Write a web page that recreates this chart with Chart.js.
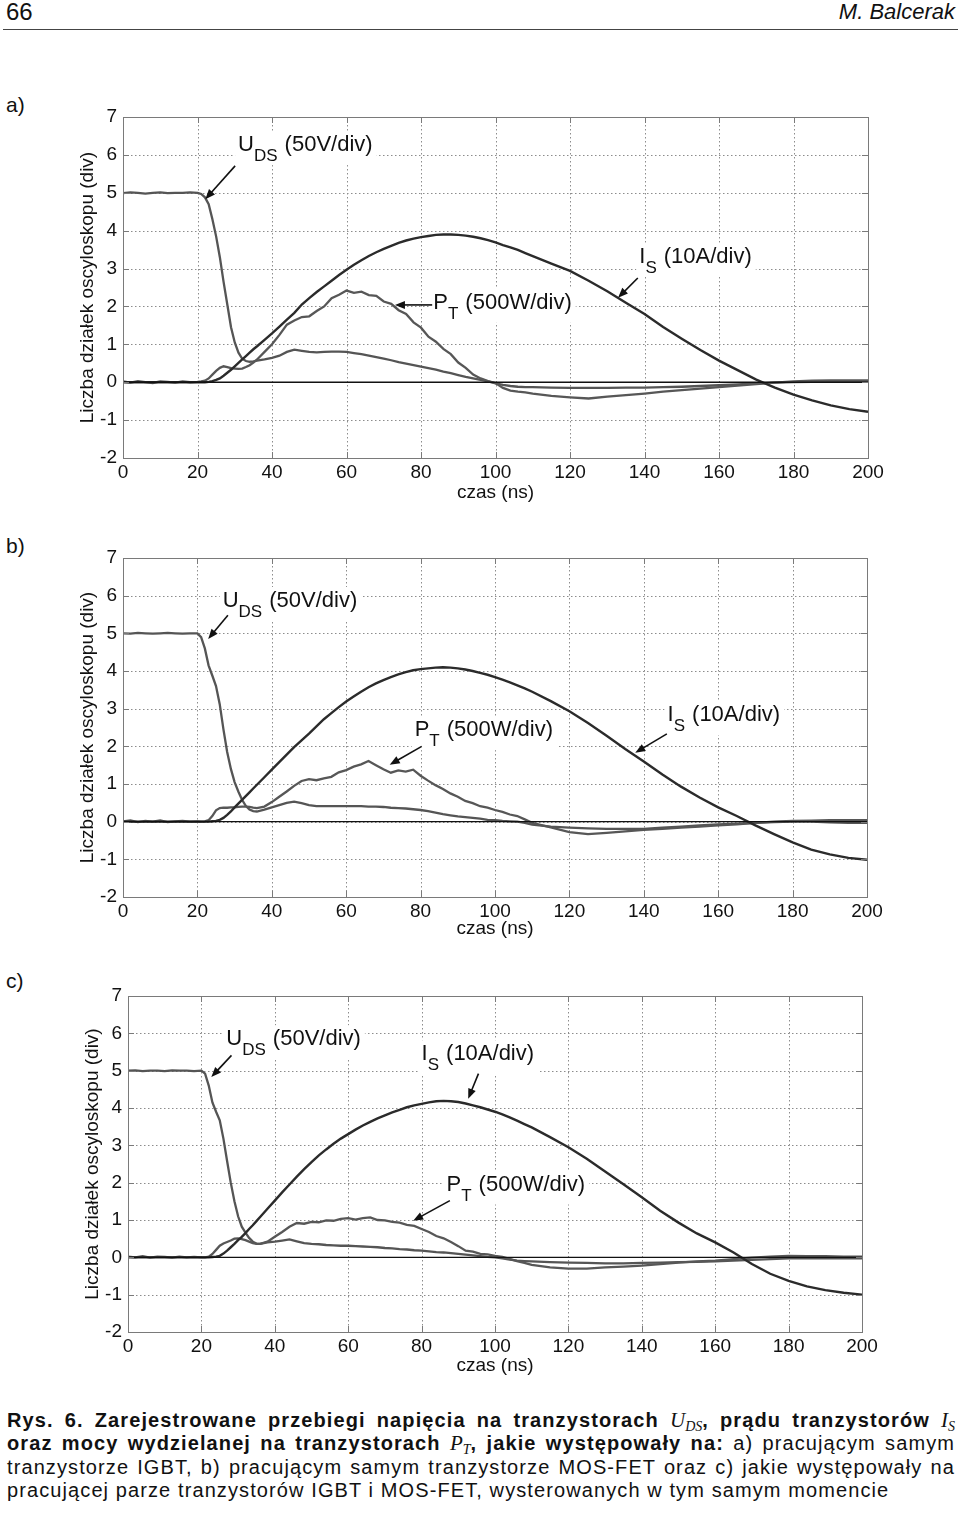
<!DOCTYPE html>
<html lang="pl">
<head>
<meta charset="utf-8">
<title>Rys. 6</title>
<script src="https://cdn.jsdelivr.net/npm/chart.js@4.4.1/dist/chart.umd.min.js"></script>
<style>
  html, body { margin: 0; padding: 0; background: #fff; }
  body {
    width: 960px; height: 1517px; position: relative; overflow: hidden;
    font-family: 'Liberation Sans', Arial, sans-serif; color: #111;
  }
  .page-no { position: absolute; left: 6px; top: 0; font-size: 24px; line-height: 24px; }
  .author { position: absolute; right: 5px; top: 1px; font-size: 22px; line-height: 22px; font-style: italic; }
  .rule { position: absolute; left: 3px; top: 28.5px; width: 955px; height: 1.5px; background: #444; }
  .part { position: absolute; left: 6px; font-size: 21px; line-height: 21px; }
  .plot { position: absolute; left: 0; width: 960px; }
  .caption { position: absolute; left: 7px; top: 1409px; width: 948px; font-size: 20px; line-height: 23.3px; letter-spacing: 1.1px; }
  .caption .ln { white-space: nowrap; overflow: visible; }
  .caption .j { text-align: justify; text-align-last: justify; white-space: normal; height: 23.3px; }
  .caption i.m { font-family: 'Liberation Serif', 'Times New Roman', serif; font-style: italic; font-weight: normal; font-size: 21px; letter-spacing: 0; }
  .caption i.m sub { font-size: 14px; vertical-align: baseline; position: relative; top: 4px; }
</style>
</head>
<body>
<div class="page-no">66</div>
<div class="author">M. Balcerak</div>
<div class="rule"></div>

<div class="part" style="top:94px">a)</div>
<div class="plot" style="top:95px;height:411px"><canvas id="chartA"></canvas></div>

<div class="part" style="top:535px">b)</div>
<div class="plot" style="top:536px;height:406px"><canvas id="chartB"></canvas></div>

<div class="part" style="top:970px">c)</div>
<div class="plot" style="top:974px;height:405px"><canvas id="chartC"></canvas></div>

<div class="caption">
  <div class="ln j"><b>Rys. 6. Zarejestrowane przebiegi napięcia na tranzystorach <i class="m">U<sub>DS</sub></i>, prądu tranzystorów <i class="m">I<sub>S</sub></i></b></div>
  <div class="ln j"><b>oraz mocy wydzielanej na tranzystorach <i class="m">P<sub>T</sub></i>, jakie występowały na:</b> a) pracującym samym</div>
  <div class="ln j">tranzystorze IGBT, b) pracującym samym tranzystorze MOS-FET oraz c) jakie występowały na</div>
  <div class="ln">pracującej parze tranzystorów IGBT i MOS-FET, wysterowanych w tym samym momencie</div>
</div>

<script>
// sample times (ns), denser around the switching edge
const TIME_NS = [
  0, 2, 4, 6, 8, 10, 12, 14, 16, 18, 20,
  21, 22, 23, 24, 25, 26, 27, 28, 29, 30, 31, 32, 33, 34, 35, 36,
  38, 40, 42, 44, 46, 48, 50, 52, 54, 56, 58, 60, 62, 64, 66, 68, 70, 72, 74,
  76, 78, 80, 82, 84, 86, 88, 90, 92, 94, 96, 98, 100, 102, 104, 106, 108, 110,
  115, 120, 125, 130, 135, 140, 145, 150, 155, 160, 165, 170, 175, 180, 185, 190, 195, 200
];

const X_TICKS = [0, 20, 40, 60, 80, 100, 120, 140, 160, 180, 200];
const Y_TICKS = [-2, -1, 0, 1, 2, 3, 4, 5, 6, 7];

// a) IGBT alone  (divisions)
const A_UDS = [
  4.99, 5.01, 5.00, 4.98, 5.00, 5.01, 4.99, 5.00, 5.00, 5.01, 5.00,
  4.97, 4.88, 4.70, 4.30, 3.85, 3.30, 2.65, 2.05, 1.45, 1.05, 0.78, 0.62, 0.56, 0.54, 0.55, 0.57,
  0.60, 0.64, 0.70, 0.80, 0.86, 0.83, 0.80, 0.79, 0.80, 0.81, 0.81, 0.80, 0.77, 0.74, 0.70, 0.66, 0.62, 0.58, 0.53,
  0.49, 0.45, 0.41, 0.37, 0.33, 0.28, 0.24, 0.19, 0.14, 0.10, 0.06, 0.02, -0.03, -0.07, -0.10, -0.12, -0.13, -0.13,
  -0.14, -0.15, -0.15, -0.15, -0.14, -0.14, -0.13, -0.12, -0.10, -0.08, -0.06, -0.03, -0.01, 0.00, 0.01, 0.02, 0.03, 0.03
];
const A_PT = [
  0.02, -0.01, 0.03, 0.00, -0.02, 0.02, 0.01, -0.01, 0.02, 0.00, 0.01,
  0.02, 0.04, 0.10, 0.20, 0.30, 0.38, 0.42, 0.40, 0.37, 0.36, 0.35, 0.36, 0.40, 0.45, 0.52, 0.60,
  0.80, 1.00, 1.25, 1.52, 1.63, 1.72, 1.74, 1.88, 2.00, 2.22, 2.31, 2.42, 2.36, 2.39, 2.30, 2.28, 2.13, 2.07, 1.90,
  1.80, 1.58, 1.44, 1.20, 1.07, 0.88, 0.74, 0.52, 0.38, 0.20, 0.10, 0.03, -0.02, -0.15, -0.22, -0.25, -0.27, -0.30,
  -0.36, -0.40, -0.43, -0.38, -0.34, -0.30, -0.25, -0.21, -0.17, -0.13, -0.09, -0.05, -0.01, 0.02, 0.04, 0.05, 0.05, 0.05
];
const A_IS = [
  0, 0, 0, 0, 0, 0, 0, 0, 0, 0, 0,
  0.00, 0.00, 0.01, 0.03, 0.06, 0.10, 0.17, 0.25, 0.33, 0.42, 0.51, 0.60, 0.69, 0.78, 0.87, 0.95,
  1.12, 1.29, 1.47, 1.65, 1.83, 2.05, 2.22, 2.38, 2.53, 2.68, 2.83, 2.97, 3.10, 3.22, 3.33, 3.43, 3.52, 3.60, 3.68,
  3.74, 3.79, 3.83, 3.86, 3.89, 3.90, 3.90, 3.89, 3.87, 3.84, 3.80, 3.75, 3.69, 3.62, 3.56, 3.49, 3.41, 3.33,
  3.13, 2.94, 2.68, 2.40, 2.10, 1.80, 1.46, 1.15, 0.85, 0.57, 0.32, 0.07, -0.14, -0.33, -0.48, -0.61, -0.71, -0.78
];

// b) MOS-FET alone
const B_UDS = [
  5.00, 4.99, 5.01, 5.00, 4.99, 5.00, 5.01, 5.00, 4.99, 5.00, 5.00,
  4.90, 4.60, 4.15, 3.88, 3.60, 3.12, 2.45, 1.85, 1.40, 1.05, 0.80, 0.58, 0.42, 0.32, 0.28, 0.27,
  0.32, 0.38, 0.44, 0.50, 0.53, 0.49, 0.44, 0.41, 0.41, 0.41, 0.41, 0.41, 0.41, 0.41, 0.40, 0.40, 0.39, 0.37, 0.36,
  0.35, 0.33, 0.31, 0.28, 0.24, 0.20, 0.17, 0.14, 0.12, 0.10, 0.08, 0.05, 0.04, 0.02, 0.01, 0.00, -0.03, -0.08,
  -0.13, -0.16, -0.18, -0.19, -0.19, -0.19, -0.16, -0.13, -0.10, -0.07, -0.05, -0.03, -0.01, 0.00, 0.00, -0.02, -0.03, -0.03
];
const B_PT = [
  0.01, 0.03, -0.01, 0.02, 0.00, 0.03, -0.01, 0.01, 0.02, 0.00, 0.01,
  0.00, 0.01, 0.04, 0.15, 0.30, 0.36, 0.37, 0.37, 0.38, 0.38, 0.39, 0.40, 0.40, 0.39, 0.37, 0.36,
  0.40, 0.52, 0.66, 0.80, 0.95, 1.08, 1.13, 1.10, 1.15, 1.19, 1.31, 1.37, 1.46, 1.52, 1.61, 1.50, 1.39, 1.30, 1.36,
  1.33, 1.38, 1.22, 1.09, 0.97, 0.87, 0.75, 0.66, 0.55, 0.49, 0.41, 0.37, 0.31, 0.26, 0.19, 0.15, 0.06, -0.03,
  -0.15, -0.28, -0.33, -0.30, -0.26, -0.22, -0.19, -0.16, -0.13, -0.10, -0.07, -0.03, 0.00, 0.02, 0.03, 0.04, 0.04, 0.04
];
const B_IS = [
  0, 0, 0, 0, 0, 0, 0, 0, 0, 0, 0,
  0.00, 0.00, 0.00, 0.01, 0.02, 0.05, 0.10, 0.18, 0.27, 0.38, 0.48, 0.58, 0.68, 0.78, 0.88, 0.98,
  1.18, 1.38, 1.58, 1.78, 1.98, 2.16, 2.34, 2.53, 2.72, 2.88, 3.04, 3.19, 3.32, 3.45, 3.57, 3.67, 3.76, 3.84, 3.91,
  3.97, 4.02, 4.05, 4.07, 4.09, 4.10, 4.09, 4.07, 4.04, 4.00, 3.95, 3.90, 3.84, 3.77, 3.70, 3.62, 3.54, 3.45,
  3.20, 2.93, 2.62, 2.28, 1.93, 1.60, 1.25, 0.93, 0.64, 0.38, 0.15, -0.10, -0.33, -0.55, -0.74, -0.87, -0.96, -1.01
];

// c) IGBT + MOS-FET pair
const C_UDS = [
  5.00, 5.01, 4.99, 5.00, 5.00, 4.99, 5.01, 5.00, 5.00, 4.99, 5.00,
  4.92, 4.60, 4.15, 3.90, 3.67, 3.18, 2.58, 2.00, 1.50, 1.10, 0.82, 0.66, 0.52, 0.42, 0.37, 0.36,
  0.40, 0.42, 0.45, 0.48, 0.43, 0.38, 0.36, 0.35, 0.33, 0.32, 0.31, 0.31, 0.30, 0.29, 0.28, 0.27, 0.25, 0.24, 0.22,
  0.21, 0.19, 0.18, 0.16, 0.14, 0.13, 0.11, 0.09, 0.07, 0.05, 0.03, 0.01, 0.00, -0.03, -0.06, -0.09, -0.10, -0.11,
  -0.13, -0.14, -0.15, -0.16, -0.16, -0.15, -0.14, -0.13, -0.12, -0.11, -0.09, -0.07, -0.05, -0.03, -0.03, -0.02, -0.03, -0.03
];
const C_PT = [
  0.02, 0.00, 0.03, -0.01, 0.02, 0.01, -0.01, 0.02, 0.00, 0.01, 0.00,
  0.00, 0.02, 0.09, 0.20, 0.31, 0.37, 0.41, 0.45, 0.50, 0.51, 0.49, 0.46, 0.42, 0.38, 0.36, 0.36,
  0.42, 0.55, 0.68, 0.82, 0.92, 0.90, 0.95, 0.94, 0.99, 0.98, 1.03, 1.05, 1.01, 1.05, 1.07, 1.00, 0.99, 0.95, 0.93,
  0.87, 0.84, 0.76, 0.68, 0.57, 0.51, 0.41, 0.30, 0.18, 0.15, 0.09, 0.08, 0.04, 0.01, -0.04, -0.10, -0.15, -0.20,
  -0.27, -0.30, -0.30, -0.27, -0.25, -0.22, -0.18, -0.14, -0.11, -0.09, -0.05, -0.01, 0.02, 0.04, 0.03, 0.03, 0.02, 0.02
];
const C_IS = [
  0, 0, 0, 0, 0, 0, 0, 0, 0, 0, 0,
  0.00, 0.00, 0.01, 0.02, 0.04, 0.10, 0.18, 0.27, 0.36, 0.46, 0.55, 0.65, 0.76, 0.86, 0.97, 1.08,
  1.30, 1.52, 1.74, 1.95, 2.16, 2.36, 2.55, 2.73, 2.89, 3.04, 3.18, 3.30, 3.42, 3.53, 3.63, 3.72, 3.80, 3.88, 3.95,
  4.02, 4.07, 4.11, 4.15, 4.18, 4.19, 4.18, 4.16, 4.12, 4.07, 4.02, 3.96, 3.90, 3.83, 3.75, 3.66, 3.57, 3.48,
  3.22, 2.95, 2.64, 2.30, 1.96, 1.61, 1.25, 0.93, 0.64, 0.40, 0.13, -0.18, -0.44, -0.63, -0.78, -0.88, -0.95, -1.00
];

// trace labels: text anchor and arrow in data units (ns, div)
const NOTES_A = [
  { main: 'U', sub: 'DS', rest: '(50V/div)', x: 30.9, y: 6.10, from: [30.1, 5.71], to: [22.1, 4.83] },
  { main: 'P', sub: 'T', rest: '(500W/div)', x: 83.3, y: 1.94, from: [83.0, 2.04], to: [73.0, 2.04] },
  { main: 'I', sub: 'S', rest: '(10A/div)', x: 138.6, y: 3.15, from: [138.2, 2.75], to: [132.9, 2.23] }
];
const NOTES_B = [
  { main: 'U', sub: 'DS', rest: '(50V/div)', x: 26.8, y: 5.70, from: [28.2, 5.48], to: [22.9, 4.85] },
  { main: 'P', sub: 'T', rest: '(500W/div)', x: 78.4, y: 2.27, from: [80.3, 2.00], to: [71.7, 1.51] },
  { main: 'I', sub: 'S', rest: '(10A/div)', x: 146.4, y: 2.67, from: [146.2, 2.33], to: [137.7, 1.83] }
];
const NOTES_C = [
  { main: 'U', sub: 'DS', rest: '(50V/div)', x: 26.8, y: 5.68, from: [28.2, 5.41], to: [22.7, 4.83] },
  { main: 'I', sub: 'S', rest: '(10A/div)', x: 80.0, y: 5.28, from: [95.5, 4.92], to: [92.7, 4.25] },
  { main: 'P', sub: 'T', rest: '(500W/div)', x: 86.8, y: 1.79, from: [87.7, 1.52], to: [77.7, 0.98] }
];

const FONT = "'Liberation Sans', Arial, sans-serif";
Chart.defaults.font.family = FONT;
Chart.defaults.font.size = 19;
Chart.defaults.color = '#111';

/**
 * pairs the shared time base with one trace
 *
 * @param {Array} values trace values in divisions
 * @returns {Array} points for chart.js
 */
function toPoints(values) {
  if (values.length !== TIME_NS.length) {
    console.error('length mismatch', values.length, TIME_NS.length);
  }
  return TIME_NS.map((t, i) => ({ x: t, y: values[i] }));
}

// dotted grid, frame, inside ticks and the arrow labels
const scopeDecor = {
  id: 'scopeDecor',
  beforeDatasetsDraw(chart) {
    const { ctx, chartArea: a, scales: { x, y } } = chart;
    ctx.save();
    ctx.strokeStyle = '#8c8c8c';
    ctx.lineWidth = 1;
    ctx.setLineDash([1.5, 2.5]);
    ctx.beginPath();
    X_TICKS.forEach(v => {
      const px = Math.round(x.getPixelForValue(v)) + 0.5;
      ctx.moveTo(px, a.top);
      ctx.lineTo(px, a.bottom);
    });
    Y_TICKS.forEach(v => {
      const py = Math.round(y.getPixelForValue(v)) + 0.5;
      ctx.moveTo(a.left, py);
      ctx.lineTo(a.right, py);
    });
    ctx.stroke();
    ctx.restore();
  },
  afterDatasetsDraw(chart, args, opts) {
    const { ctx, chartArea: a, scales: { x, y } } = chart;
    ctx.save();
    ctx.strokeStyle = '#7a7a7a';
    ctx.lineWidth = 1;
    ctx.strokeRect(Math.round(a.left) + 0.5, Math.round(a.top) + 0.5,
      Math.round(a.right - a.left), Math.round(a.bottom - a.top));

    // tick marks pointing inwards
    ctx.beginPath();
    X_TICKS.forEach(v => {
      const px = Math.round(x.getPixelForValue(v)) + 0.5;
      ctx.moveTo(px, a.bottom); ctx.lineTo(px, a.bottom - 6);
      ctx.moveTo(px, a.top); ctx.lineTo(px, a.top + 6);
    });
    Y_TICKS.forEach(v => {
      const py = Math.round(y.getPixelForValue(v)) + 0.5;
      ctx.moveTo(a.left, py); ctx.lineTo(a.left + 6, py);
      ctx.moveTo(a.right, py); ctx.lineTo(a.right - 6, py);
    });
    ctx.stroke();

    (opts.notes || []).forEach(n => {
      const px = x.getPixelForValue(n.x);
      const py = y.getPixelForValue(n.y);
      ctx.font = `22px ${FONT}`;
      const wMain = ctx.measureText(n.main).width;
      const wRest = ctx.measureText(n.rest).width;
      ctx.font = `17px ${FONT}`;
      const wSub = ctx.measureText(n.sub).width;
      const gap = 7;
      const total = wMain + wSub + gap + wRest;

      ctx.fillStyle = '#fff';
      ctx.fillRect(px - 3, py - 20, total + 7, 34);

      ctx.fillStyle = '#111';
      ctx.textBaseline = 'alphabetic';
      ctx.textAlign = 'left';
      ctx.font = `22px ${FONT}`;
      ctx.fillText(n.main, px, py);
      ctx.fillText(n.rest, px + wMain + wSub + gap, py);
      ctx.font = `17px ${FONT}`;
      ctx.fillText(n.sub, px + wMain, py + 10);

      // arrow
      const x1 = x.getPixelForValue(n.from[0]), y1 = y.getPixelForValue(n.from[1]);
      const x2 = x.getPixelForValue(n.to[0]), y2 = y.getPixelForValue(n.to[1]);
      const ang = Math.atan2(y2 - y1, x2 - x1);
      const head = 10, half = 4;
      ctx.strokeStyle = '#111';
      ctx.lineWidth = 1.6;
      ctx.beginPath();
      ctx.moveTo(x1, y1);
      ctx.lineTo(x2 - Math.cos(ang) * head * 0.8, y2 - Math.sin(ang) * head * 0.8);
      ctx.stroke();
      ctx.beginPath();
      ctx.moveTo(x2, y2);
      ctx.lineTo(x2 - Math.cos(ang) * head - Math.sin(ang) * half, y2 - Math.sin(ang) * head + Math.cos(ang) * half);
      ctx.lineTo(x2 - Math.cos(ang) * head + Math.sin(ang) * half, y2 - Math.sin(ang) * head - Math.cos(ang) * half);
      ctx.closePath();
      ctx.fillStyle = '#111';
      ctx.fill();
    });
    ctx.restore();
  }
};

/**
 * builds one oscilloscope panel
 *
 * @param {string} id canvas id
 * @param {object} cfg traces, labels and box geometry
 * @returns {Chart} chart object
 */
function makePanel(id, cfg) {
  const trace = (label, values, color, width) => ({
    label: label,
    data: toPoints(values),
    borderColor: color,
    borderWidth: width,
    pointRadius: 0,
    tension: 0,
    fill: false
  });

  return new Chart(document.getElementById(id), {
    type: 'line',
    data: {
      datasets: [
        {
          label: 'zero',
          data: [{ x: 0, y: 0 }, { x: 200, y: 0 }],
          borderColor: '#111',
          borderWidth: 1.4,
          pointRadius: 0
        },
        trace('I_S', cfg.is, '#2b2b2b', 2.4),
        trace('P_T', cfg.pt, '#575757', 2.3),
        trace('U_DS', cfg.uds, '#555555', 2.3)
      ]
    },
    options: {
      responsive: true,
      maintainAspectRatio: false,
      animation: false,
      events: [],
      layout: { padding: { top: 22, right: cfg.padRight, left: 0, bottom: 0 } },
      plugins: {
        legend: { display: false },
        tooltip: { enabled: false },
        scopeDecor: { notes: cfg.notes }
      },
      scales: {
        x: {
          type: 'linear',
          min: 0,
          max: 200,
          grid: { display: false, drawTicks: false },
          border: { display: false },
          ticks: { stepSize: 20, padding: 3, maxRotation: 0, autoSkip: false },
          title: { display: true, text: 'czas (ns)', padding: { top: 0, bottom: 2 } },
          afterFit: s => { s.height = cfg.xHeight; }
        },
        y: {
          min: -2,
          max: 7,
          grid: { display: false, drawTicks: false },
          border: { display: false },
          ticks: { stepSize: 1, padding: 6 },
          title: { display: true, text: 'Liczba działek oscyloskopu (div)', padding: { top: cfg.titleOffset, bottom: 0 } },
          afterFit: s => { s.width = cfg.yWidth; }
        }
      }
    },
    plugins: [scopeDecor]
  });
}

makePanel('chartA', { uds: A_UDS, pt: A_PT, is: A_IS, notes: NOTES_A, padRight: 92, yWidth: 123, xHeight: 48, titleOffset: 76 });
makePanel('chartB', { uds: B_UDS, pt: B_PT, is: B_IS, notes: NOTES_B, padRight: 93, yWidth: 123, xHeight: 45, titleOffset: 76 });
makePanel('chartC', { uds: C_UDS, pt: C_PT, is: C_IS, notes: NOTES_C, padRight: 98, yWidth: 128, xHeight: 47, titleOffset: 81 });
</script>
</body>
</html>
